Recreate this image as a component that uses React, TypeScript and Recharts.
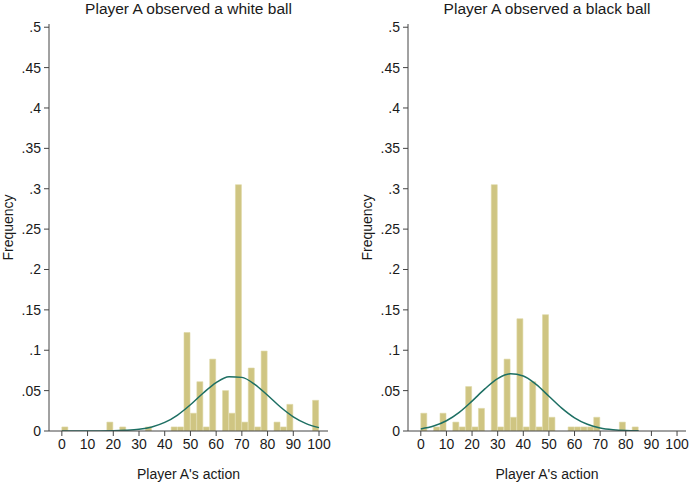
import { Bar, ComposedChart, Label, Line, XAxis, YAxis } from "recharts";

// histogram bins are 2.5 wide, listed by their midpoints
const binMid = [
  1.25, 3.75, 6.25, 8.75, 11.25, 13.75, 16.25, 18.75, 21.25, 23.75,
  26.25, 28.75, 31.25, 33.75, 36.25, 38.75, 41.25, 43.75, 46.25, 48.75,
  51.25, 53.75, 56.25, 58.75, 61.25, 63.75, 66.25, 68.75, 71.25, 73.75,
  76.25, 78.75, 81.25, 83.75, 86.25, 88.75, 91.25, 93.75, 96.25, 98.75,
];

const whiteFreq = [
  0.005, 0, 0, 0, 0, 0, 0, 0.011, 0, 0.005,
  0, 0, 0, 0.005, 0, 0, 0, 0.005, 0.005, 0.122,
  0.022, 0.061, 0.005, 0.089, 0, 0.05, 0.022, 0.305, 0.011, 0.078,
  0.005, 0.099, 0, 0.011, 0.005, 0.033, 0, 0, 0, 0.038,
];

const blackFreq = [
  0.022, 0, 0.005, 0.022, 0, 0.011, 0.005, 0.055, 0.005, 0.028,
  0, 0.305, 0.005, 0.089, 0.017, 0.139, 0.005, 0.061, 0.005, 0.144,
  0.017, 0, 0, 0.005, 0.005, 0.005, 0.005, 0.017, 0, 0,
  0, 0.011, 0, 0.005, 0, 0, 0, 0, 0, 0,
];

// normal overlay, every 5 units
const whiteCurveX = [0, 5, 10, 15, 20, 25, 30, 35, 40, 45, 50, 55, 60, 65, 70, 75, 80, 85, 90, 95, 100];
const whiteCurve = [
  0, 0, 0, 0.0001, 0.0002, 0.0008, 0.0021, 0.005, 0.0106, 0.0198, 0.0325,
  0.0471, 0.06, 0.0673, 0.0664, 0.0578, 0.0442, 0.0297, 0.0176, 0.0092, 0.0042,
];

const blackCurveX = [0, 5, 10, 15, 20, 25, 30, 35, 40, 45, 50, 55, 60, 65, 70, 75, 80, 85];
const blackCurve = [
  0.0026, 0.0061, 0.0127, 0.0231, 0.037, 0.0521, 0.0648, 0.0708, 0.0682,
  0.0577, 0.0431, 0.0283, 0.0163, 0.0083, 0.0037, 0.0015, 0.0005, 0.0002,
];

const xTicks = [0, 10, 20, 30, 40, 50, 60, 70, 80, 90, 100];
const yTicks = [0, 0.05, 0.1, 0.15, 0.2, 0.25, 0.3, 0.35, 0.4, 0.45, 0.5];

const AXIS = "#444";
const TEXT = "#1a1a1a";
const BAR_FILL = "#cfc582";
const BAR_EDGE = "#ddd6a4";
const CURVE = "#1d6f63";
const X_DOMAIN: [number, number] = [-5, 103.5];

const fmtY = (v: number) => (v === 0 ? "0" : String(v).replace(/^0\./, "."));

type PanelProps = {
  title: string;
  freq: number[];
  curveX: number[];
  curve: number[];
  marginLeft: number;
  marginRight: number;
};

function Panel({ title, freq, curveX, curve, marginLeft, marginRight }: PanelProps) {
  const bars = binMid.map((x, i) => ({ x, freq: freq[i] }));
  const line = curveX.map((x, i) => ({ x, dens: curve[i] }));
  const plotLeft = marginLeft + 49;
  const plotRight = 345 - marginRight;

  return (
    <div style={{ position: "relative", width: 345, height: 483 }}>
      <div
        style={{
          position: "absolute",
          top: 0,
          left: plotLeft - 20,
          width: plotRight - plotLeft + 40,
          textAlign: "center",
          fontSize: 15.5,
          lineHeight: "18px",
          color: TEXT,
        }}
      >
        {title}
      </div>
      <ComposedChart
        width={345}
        height={483}
        data={bars}
        margin={{ top: 24, right: marginRight, bottom: 0, left: marginLeft }}
        barCategoryGap={0}
        barGap={0}
      >
        {/* hidden axis carrying only the bins, so bar width = bin width */}
        <XAxis
          xAxisId="bins"
          dataKey="x"
          type="number"
          domain={X_DOMAIN}
          allowDataOverflow
          hide
          height={0}
        />
        <XAxis
          xAxisId="main"
          dataKey="x"
          type="number"
          domain={X_DOMAIN}
          allowDataOverflow
          ticks={xTicks}
          interval={0}
          height={52}
          tickSize={5}
          tickMargin={3}
          tick={{ fontSize: 14, fill: TEXT }}
          axisLine={{ stroke: AXIS }}
          tickLine={{ stroke: AXIS }}
        >
          <Label value="Player A's action" position="insideBottom" offset={4} style={{ fontSize: 14, fill: TEXT }} />
        </XAxis>
        <YAxis
          type="number"
          domain={[0, 0.504]}
          allowDataOverflow
          ticks={yTicks}
          interval={0}
          width={49}
          tickSize={5}
          tickMargin={3}
          tickFormatter={fmtY}
          tick={{ fontSize: 14, fill: TEXT }}
          axisLine={{ stroke: AXIS }}
          tickLine={{ stroke: AXIS }}
        >
          <Label
            value="Frequency"
            angle={-90}
            position="insideLeft"
            offset={8}
            style={{ fontSize: 14, fill: TEXT, textAnchor: "middle" }}
          />
        </YAxis>
        <Bar
          xAxisId="bins"
          dataKey="freq"
          fill={BAR_FILL}
          stroke={BAR_EDGE}
          strokeWidth={0.6}
          isAnimationActive={false}
        />
        <Line
          xAxisId="main"
          data={line}
          dataKey="dens"
          type="monotone"
          stroke={CURVE}
          strokeWidth={1.5}
          dot={false}
          activeDot={false}
          isAnimationActive={false}
        />
      </ComposedChart>
    </div>
  );
}

export default function App() {
  return (
    <div
      style={{
        position: "absolute",
        left: 0,
        top: 0,
        width: 690,
        height: 483,
        display: "flex",
        background: "#fff",
        fontFamily: "'Liberation Sans', Arial, sans-serif",
      }}
    >
      <Panel
        title="Player A observed a white ball"
        freq={whiteFreq}
        curveX={whiteCurveX}
        curve={whiteCurve}
        marginLeft={0}
        marginRight={17}
      />
      <Panel
        title="Player A observed a black ball"
        freq={blackFreq}
        curveX={blackCurveX}
        curve={blackCurve}
        marginLeft={14}
        marginRight={4}
      />
    </div>
  );
}
